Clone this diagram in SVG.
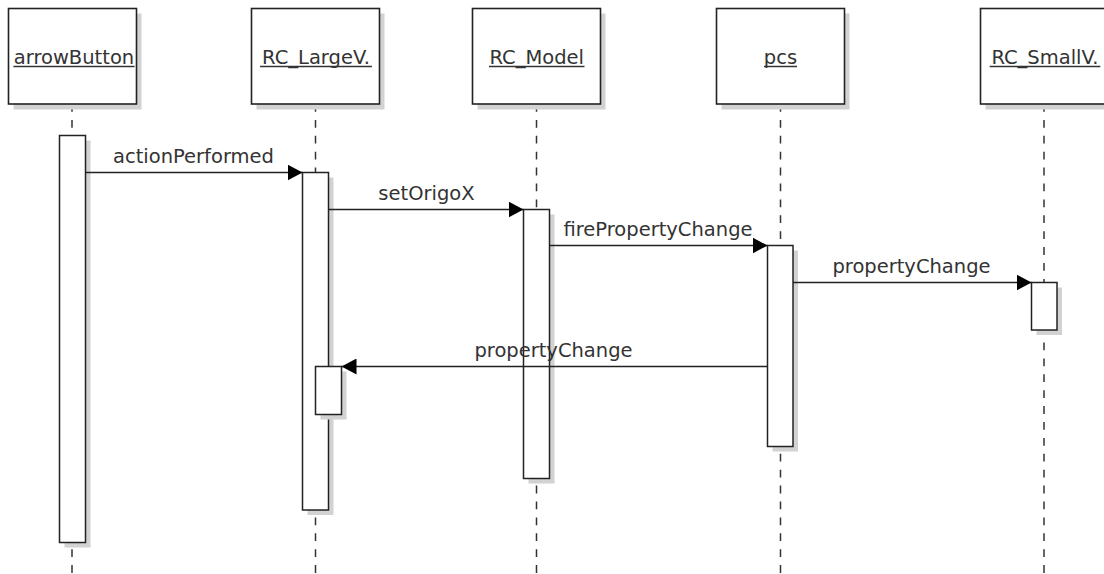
<svg xmlns="http://www.w3.org/2000/svg" width="1104" height="574" viewBox="0 0 1104 574">
  <defs>
    <style>
      .head { fill: #ffffff; stroke: #222222; stroke-width: 1.6; }
      .shadow { fill: #d2d2d2; stroke: none; }
      .act { fill: #ffffff; stroke: #222222; stroke-width: 1.5; }
      .life { stroke: #333333; stroke-width: 1.5; stroke-dasharray: 7.8 8.1; fill: none; }
      .name { font-family: "DejaVu Sans", "Liberation Sans", sans-serif; font-size: 19.5px; fill: #333333; text-anchor: middle; }
      .uline { stroke: #333333; stroke-width: 1.5; }
      .msg { stroke: #222222; stroke-width: 1.4; fill: none; marker-end: url(#head); }
      .label { font-family: "DejaVu Sans", "Liberation Sans", sans-serif; font-size: 19.5px; fill: #333333; text-anchor: middle; }
    </style>
    <marker id="head" viewBox="0 0 15 16" refX="15" refY="8" markerWidth="15" markerHeight="16" markerUnits="userSpaceOnUse" orient="auto">
      <path d="M0,0 L15,8 L0,16 Z" fill="#000000"/>
    </marker>
  </defs>

  <rect width="1104" height="574" fill="#ffffff"/>

  <!-- arrowButton -->
  <g id="arrowButton">
    <line class="life" x1="72" y1="104" x2="72" y2="574"/>
    <rect class="shadow" x="13.5" y="13.5" width="128" height="96"/>
    <rect class="head" x="8.5" y="8.5" width="128" height="95.5"/>
    <text class="name" x="74" y="63.5">arrowButton</text>
    <line class="uline" x1="13.4" y1="66.5" x2="134.6" y2="66.5"/>
    <rect class="shadow" x="64.5" y="140.5" width="26" height="407"/>
    <rect class="act" x="59.5" y="135.5" width="26" height="407"/>
  </g>

  <!-- RC_LargeV. -->
  <g id="RC_LargeV">
    <line class="life" x1="315.5" y1="104" x2="315.5" y2="574"/>
    <rect class="shadow" x="256.5" y="13.5" width="128" height="96"/>
    <rect class="head" x="251.5" y="8.5" width="128" height="95.5"/>
    <text class="name" x="316" y="63.5">RC_LargeV.</text>
    <line class="uline" x1="260.1" y1="66.5" x2="371.9" y2="66.5"/>
    <rect class="shadow" x="307.5" y="177.5" width="26" height="337.5"/>
    <rect class="act" x="302.5" y="172.5" width="26" height="337.5"/>
    <rect class="shadow" x="320.5" y="371.5" width="26" height="48"/>
    <rect class="act" x="315.5" y="366.5" width="26" height="48"/>
  </g>

  <!-- RC_Model -->
  <g id="RC_Model">
    <line class="life" x1="536.5" y1="104" x2="536.5" y2="574"/>
    <rect class="shadow" x="477.5" y="13.5" width="128" height="96"/>
    <rect class="head" x="472.5" y="8.5" width="128" height="95.5"/>
    <text class="name" x="536.7" y="63.5">RC_Model</text>
    <line class="uline" x1="489" y1="66.5" x2="584.5" y2="66.5"/>
    <rect class="shadow" x="528.5" y="214.5" width="26" height="269"/>
    <rect class="act" x="523.5" y="209.5" width="26" height="269"/>
  </g>

  <!-- pcs -->
  <g id="pcs">
    <line class="life" x1="780.5" y1="104" x2="780.5" y2="574"/>
    <rect class="shadow" x="721.5" y="13.5" width="128" height="96"/>
    <rect class="head" x="716.5" y="8.5" width="128" height="95.5"/>
    <text class="name" x="780.5" y="63.5">pcs</text>
    <line class="uline" x1="764" y1="66.5" x2="797" y2="66.5"/>
    <rect class="shadow" x="772.5" y="250.5" width="25.5" height="201"/>
    <rect class="act" x="767.5" y="245.5" width="25.5" height="201"/>
  </g>

  <!-- RC_SmallV. -->
  <g id="RC_SmallV">
    <line class="life" x1="1044" y1="104" x2="1044" y2="574"/>
    <rect class="shadow" x="985.5" y="13.5" width="128" height="96"/>
    <rect class="head" x="980.5" y="8.5" width="128" height="95.5"/>
    <text class="name" x="1045" y="63.5">RC_SmallV.</text>
    <line class="uline" x1="989.7" y1="66.5" x2="1100.3" y2="66.5"/>
    <rect class="shadow" x="1036.5" y="287.5" width="25.5" height="47.5"/>
    <rect class="act" x="1031.5" y="282.5" width="25.5" height="47.5"/>
  </g>

  <!-- messages -->
  <g id="connectors">
    <line class="msg" x1="85.5" y1="172.5" x2="302.5" y2="172.5"/>
    <text class="label" x="193.5" y="162.5">actionPerformed</text>

    <line class="msg" x1="328.5" y1="209.5" x2="523.5" y2="209.5"/>
    <text class="label" x="426.5" y="200">setOrigoX</text>

    <line class="msg" x1="549.5" y1="245.5" x2="767.5" y2="245.5"/>
    <text class="label" x="658" y="235.5">firePropertyChange</text>

    <line class="msg" x1="793" y1="282.5" x2="1031.5" y2="282.5"/>
    <text class="label" x="911.5" y="272.5">propertyChange</text>

    <line class="msg" x1="767.5" y1="366.5" x2="341.5" y2="366.5"/>
    <text class="label" x="553.5" y="356.5">propertyChange</text>
  </g>
</svg>
